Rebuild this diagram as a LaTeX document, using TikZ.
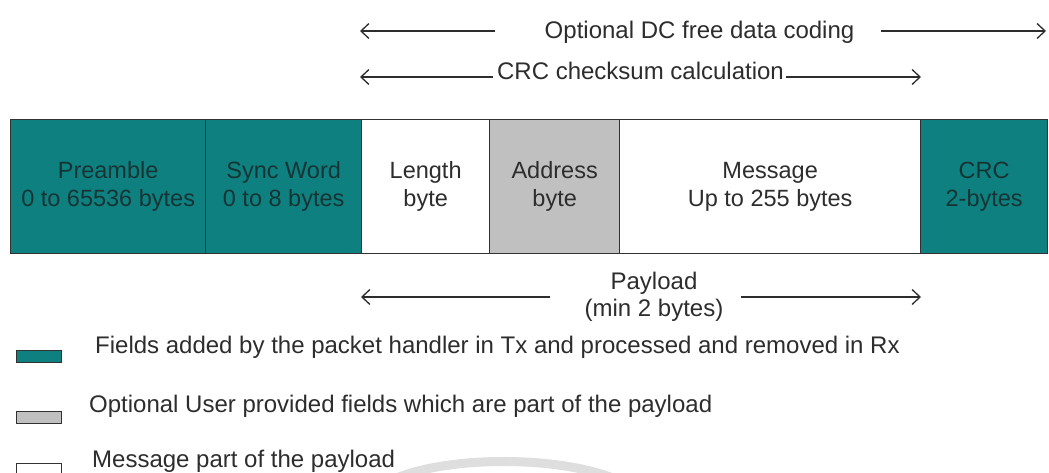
\documentclass[tikz,border=0pt]{standalone}
\usepackage{fontspec}
\setmainfont{Liberation Sans}
\usetikzlibrary{arrows.meta}

\definecolor{pteal}{RGB}{14,128,128}
\definecolor{tealtext}{RGB}{22,52,52}
\definecolor{usergray}{RGB}{192,192,192}
\definecolor{ink}{RGB}{45,45,45}
\definecolor{frame}{RGB}{50,50,50}
\definecolor{wmark}{RGB}{222,222,222}

\begin{document}
\begin{tikzpicture}[x=1pt,y=-1pt,
  field/.style={draw=frame, line width=1.3pt, minimum height=134pt, inner sep=0pt,
                anchor=north west, align=center, font=\fontsize{23.5}{28}\selectfont},
  hdr/.style={field, fill=pteal, text=tealtext},
  usr/.style={field, fill=usergray, text=ink},
  msg/.style={field, fill=white, text=ink},
  lbl/.style={font=\fontsize{24}{27}\selectfont, text=ink, inner sep=0pt, align=center},
  legtext/.style={lbl, anchor=base west},
  arr/.style={-{Straight Barb[length=8pt,width=15pt]}, line width=1.3pt, draw=ink},
  swatch/.style={draw=frame, line width=1.2pt, minimum width=45pt, minimum height=12pt,
                 inner sep=0pt, anchor=north west}]
\useasboundingbox (0,0) rectangle (1049,473);
\fill[white] (0,0) rectangle (1049,473);

% faint mark at the bottom edge
\draw[wmark, line width=9pt] (390,481) .. controls (440,456) and (560,454) .. (620,481);

% packet fields
\node[hdr, minimum width=195pt] (pre)  at (10,119)  {Preamble\\0 to 65536 bytes};
\node[hdr, minimum width=156pt] (sync) at (205,119) {Sync Word\\0 to 8 bytes};
\node[msg, minimum width=128pt] (len)  at (361,119) {Length\\byte};
\node[usr, minimum width=130pt] (addr) at (489,119) {Address\\byte};
\node[msg, minimum width=301pt] (mess) at (619,119) {Message\\Up to 255 bytes};
\node[hdr, minimum width=127pt] (crc)  at (920,119) {CRC\\2-bytes};

% span markers above the fields
\node[lbl, anchor=base] (dc) at (699.5,39) {Optional DC free data coding};
\coordinate (dcA) at (360,31);
\coordinate (dcB) at (495,31);
\coordinate (dcC) at (881,31);
\coordinate (dcD) at (1046,31);
\draw[arr] (dcB) -- (dcA);
\draw[arr] (dcC) -- (dcD);

\node[lbl, anchor=base] (crcspan) at (640.5,80) {CRC checksum calculation};
\coordinate (crA) at (360,77);
\coordinate (crB) at (493,77);
\coordinate (crC) at (786,77);
\coordinate (crD) at (921,77);
\draw[arr] (crB) -- (crA);
\draw[arr] (crC) -- (crD);

% payload span below the fields
\node[lbl] (pay) at (654,297) {Payload\\(min 2 bytes)};
\coordinate (pyA) at (361,297);
\coordinate (pyB) at (550,297);
\coordinate (pyC) at (741,297);
\coordinate (pyD) at (921,297);
\draw[arr] (pyB) -- (pyA);
\draw[arr] (pyC) -- (pyD);

% legend
\node[swatch, fill=pteal]    (sw1) at (16,350) {};
\node[swatch, fill=usergray] (sw2) at (16,411) {};
\node[swatch, fill=white]    (sw3) at (16,463) {};
\node[legtext] (lg1) at (95,353) {Fields added by the packet handler in Tx and processed and removed in Rx};
\node[legtext] (lg2) at (89,412) {Optional User provided fields which are part of the payload};
\node[legtext] (lg3) at (92,467) {Message part of the payload};
\end{tikzpicture}
\end{document}
